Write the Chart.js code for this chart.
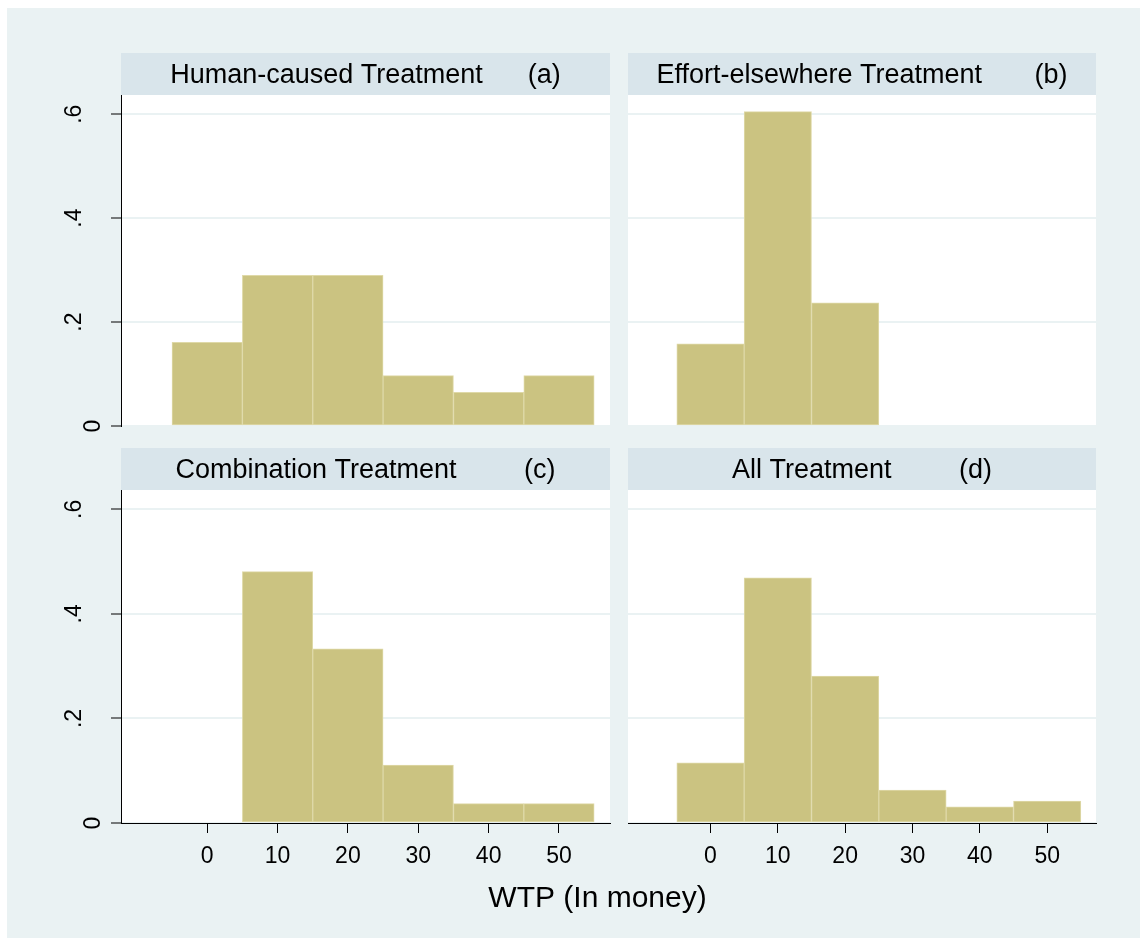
<!DOCTYPE html>
<html><head><meta charset="utf-8">
<script src="https://cdn.jsdelivr.net/npm/chart.js@4.4.1/dist/chart.umd.min.js"></script>
<style>
html,body{margin:0;padding:0;background:#ffffff;}
#wrap{position:relative;width:1147px;height:944px;overflow:hidden;}
#bg{position:absolute;left:7px;top:8px;width:1133px;height:930px;background:#eaf2f3;}
canvas{position:absolute;left:0;top:0;}
</style></head><body>
<div id="wrap"><div id="bg"></div>
<canvas id="p0" width="1147" height="944"></canvas>
<canvas id="p1" width="1147" height="944"></canvas>
<canvas id="p2" width="1147" height="944"></canvas>
<canvas id="p3" width="1147" height="944"></canvas>
</div>
<script>
// ---- data ----
const binCenters = [0, 10, 20, 30, 40, 50];
const xTickValues = [0, 10, 20, 30, 40, 50];
const xTickLabels = ["0", "10", "20", "30", "40", "50"];
const yTickValues = [0, 0.2, 0.4, 0.6];
const yTickLabels = ["0", ".2", ".4", ".6"];
const panelTitles = [
  "Human-caused Treatment      (a)",
  "Effort-elsewhere Treatment       (b)",
  "Combination Treatment         (c)",
  "All Treatment         (d)"
];
const humanCaused     = [0.161, 0.290, 0.290, 0.097, 0.065, 0.097];
const effortElsewhere = [0.158, 0.605, 0.237, 0, 0, 0];
const combination     = [0, 0.481, 0.333, 0.111, 0.037, 0.037];
const allTreatment    = [0.115, 0.469, 0.281, 0.063, 0.031, 0.042];
const xAxisTitle = "WTP (In money)";

// ---- styling / layout ----
const FONT = "'Liberation Sans', Arial, Helvetica, sans-serif";
const W = 1147, H = 944;
const BAR_FILL = '#cbc381';
const BAR_EDGE = '#dfd9a8';
const GRID = '#eaf2f3';
const STRIP = '#d9e5eb';
const X_MIN = -12.25, X_MAX = 57.25, Y_MIN = 0, Y_MAX = 0.637;
const XAXIS_H = 80;

const panels = [
  {id:'p0', data:humanCaused,     area:{l:121, t:95,  r:610,  b:426}, yAxis:true,  xAxis:false, title:panelTitles[0]},
  {id:'p1', data:effortElsewhere, area:{l:628, t:95,  r:1096, b:426}, yAxis:false, xAxis:false, title:panelTitles[1]},
  {id:'p2', data:combination,     area:{l:121, t:490, r:610,  b:823}, yAxis:true,  xAxis:true,  title:panelTitles[2], xtitle:true},
  {id:'p3', data:allTreatment,    area:{l:628, t:490, r:1096, b:823}, yAxis:false, xAxis:true,  title:panelTitles[3]}
];

const panelPlugin = {
  id: 'panelDecor',
  beforeDraw(chart, args, opts) {
    const ctx = chart.ctx, a = chart.chartArea;
    ctx.save();
    ctx.fillStyle = '#ffffff';
    ctx.fillRect(a.left, a.top, a.right - a.left, a.bottom - a.top);
    ctx.fillStyle = STRIP;
    ctx.fillRect(a.left, a.top - 42, a.right - a.left, 42);
    ctx.fillStyle = '#000000';
    ctx.font = '27px ' + FONT;
    ctx.textAlign = 'center';
    ctx.textBaseline = 'alphabetic';
    ctx.fillText(opts.title, (a.left + a.right) / 2, a.top - 12.5);
    ctx.restore();
  },
  afterDraw(chart, args, opts) {
    const ctx = chart.ctx, a = chart.chartArea;
    ctx.save();
    ctx.fillStyle = '#000000';
    if (opts.yAxis) {
      const ys = chart.scales.y;
      ctx.font = '23px ' + FONT;
      const w0 = ctx.measureText('0').width;
      yTickValues.forEach((v, i) => {
        const lab = yTickLabels[i];
        const py = ys.getPixelForValue(v);
        const extra = ctx.measureText(lab).width - w0;
        const bx = a.left - 21 - 3 * extra;
        ctx.save();
        ctx.translate(bx, py);
        ctx.rotate(-Math.PI / 2);
        ctx.textAlign = 'center';
        ctx.textBaseline = 'alphabetic';
        ctx.fillText(lab, 0, 0);
        ctx.restore();
      });
    }
    if (opts.xtitle) {
      ctx.font = '30px ' + FONT;
      ctx.textAlign = 'center';
      ctx.textBaseline = 'alphabetic';
      ctx.fillText(xAxisTitle, 597.5, 906.5);
    }
    ctx.restore();
  }
};

panels.forEach(p => {
  const ctx = document.getElementById(p.id).getContext('2d');
  const xh = p.xAxis ? XAXIS_H : 0;
  new Chart(ctx, {
    type: 'bar',
    data: {
      datasets: [{
        data: binCenters.map((c, i) => ({x: c, y: p.data[i]})),
        backgroundColor: BAR_FILL,
        borderColor: BAR_EDGE,
        borderWidth: 1,
        borderSkipped: false,
        barPercentage: 1,
        categoryPercentage: 1
      }]
    },
    plugins: [panelPlugin],
    options: {
      responsive: false,
      animation: false,
      devicePixelRatio: 1,
      events: [],
      layout: { padding: { left: p.area.l, top: p.area.t, right: W - p.area.r, bottom: H - p.area.b - xh } },
      plugins: {
        legend: { display: false },
        title: { display: false },
        tooltip: { enabled: false },
        panelDecor: { title: p.title, yAxis: p.yAxis, xtitle: !!p.xtitle }
      },
      scales: {
        x: {
          type: 'linear',
          display: p.xAxis,
          offset: false,
          min: X_MIN, max: X_MAX,
          afterFit: s => { s.height = xh; },
          afterBuildTicks: s => { s.ticks = xTickValues.map(v => ({value: v})); },
          grid: { offset: false, drawOnChartArea: false, drawTicks: true, tickLength: 10, tickColor: '#000000', tickWidth: 1 },
          border: { display: true, color: '#000000', width: 1 },
          ticks: {
            padding: 10,
            color: '#000000',
            font: { family: FONT, size: 23 },
            maxRotation: 0, minRotation: 0, autoSkip: false,
            callback: (v) => { const i = xTickValues.indexOf(v); return i >= 0 ? xTickLabels[i] : ''; }
          }
        },
        y: {
          type: 'linear',
          display: true,
          min: Y_MIN, max: Y_MAX,
          afterFit: s => { s.width = 0; },
          afterBuildTicks: s => { s.ticks = yTickValues.map(v => ({value: v})); },
          grid: { color: GRID, lineWidth: 2, drawTicks: p.yAxis, tickLength: 10, tickColor: '#000000', tickWidth: 1 },
          border: { display: p.yAxis, color: '#000000', width: 1 },
          ticks: { display: false }
        }
      }
    }
  });
});
</script>
</body></html>
